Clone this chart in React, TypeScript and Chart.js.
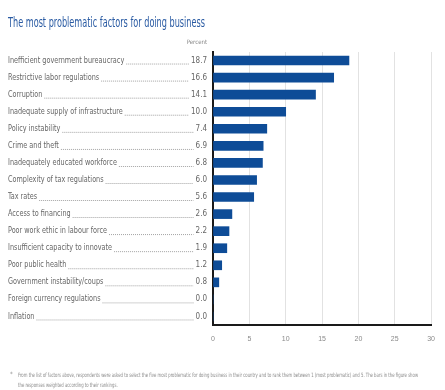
import { useEffect, useRef } from "react";
import { Chart, registerables } from "chart.js";

Chart.register(...registerables);

const TITLE = "The most problematic factors for doing business";
const UNIT_LABEL = "Percent";
const factors = [
  "Inefficient government bureaucracy",
  "Restrictive labor regulations",
  "Corruption",
  "Inadequate supply of infrastructure",
  "Policy instability",
  "Crime and theft",
  "Inadequately educated workforce",
  "Complexity of tax regulations",
  "Tax rates",
  "Access to financing",
  "Poor work ethic in labour force",
  "Insufficient capacity to innovate",
  "Poor public health",
  "Government instability/coups",
  "Foreign currency regulations",
  "Inflation",
];
const shares = [18.7, 16.6, 14.1, 10.0, 7.4, 6.9, 6.8, 6.0, 5.6, 2.6, 2.2, 1.9, 1.2, 0.8, 0.0, 0.0];
const xTickValues = [0, 5, 10, 15, 20, 25, 30];
const NOTE_LINES = [
  "From the list of factors above, respondents were asked to select the five most problematic for doing business in their country and to rank them between 1 (most problematic) and 5. The bars in the figure show",
  "the responses weighted according to their rankings.",
];

const BLUE = "#0e4c97";
const NARROW = "'Liberation Sans Narrow', 'DejaVu Sans Condensed', 'Liberation Sans', sans-serif";

function drawScaled(ctx: CanvasRenderingContext2D, text: string, x: number, y: number, sx: number) {
  ctx.save();
  ctx.translate(x, y);
  ctx.scale(sx, 1);
  ctx.fillText(text, 0, 0);
  ctx.restore();
}

function drawFit(ctx: CanvasRenderingContext2D, text: string, x: number, y: number, width: number) {
  const w = ctx.measureText(text).width;
  drawScaled(ctx, text, x, y, width / w);
}

const decorPlugin = {
  id: "decor",
  afterDraw(chart: any) {
    const ctx: CanvasRenderingContext2D = chart.ctx;
    const yScale = chart.scales.y;
    ctx.save();
    // Title
    ctx.fillStyle = "#2a5ba3";
    ctx.font = `14px ${NARROW}`;
    ctx.textBaseline = "alphabetic";
    ctx.textAlign = "left";
    drawFit(ctx, TITLE, 8, 27, 197);

    // Unit header
    ctx.fillStyle = "#8a8a8a";
    ctx.font = `6px ${NARROW}`;
    ctx.textAlign = "right";
    ctx.fillText(UNIT_LABEL, 207, 44);

    // Rows
    const sx = 0.9;
    const valueRight = 207;
    factors.forEach((label, i) => {
      const y = yScale.getPixelForValue(i);
      ctx.font = `8px ${NARROW}`;
      ctx.fillStyle = "#666";
      ctx.textBaseline = "middle";
      ctx.textAlign = "left";
      drawScaled(ctx, label, 8, y, sx);
      const lw = ctx.measureText(label).width * sx;
      const valueText = shares[i].toFixed(1);
      ctx.textAlign = "right";
      ctx.fillText(valueText, valueRight, y);
      const vw = ctx.measureText(valueText).width;
      ctx.beginPath();
      ctx.strokeStyle = "#8c8c8c";
      ctx.lineWidth = 0.8;
      ctx.setLineDash([1, 1]);
      ctx.moveTo(8 + lw + 2, y + 3.5);
      ctx.lineTo(valueRight - vw - 2, y + 3.5);
      ctx.stroke();
      ctx.setLineDash([]);
    });

    // Footnote
    ctx.fillStyle = "#8a8a8a";
    ctx.textAlign = "left";
    ctx.textBaseline = "middle";
    ctx.font = `6px ${NARROW}`;
    ctx.fillText("*", 10, 374);
    const noteScale = 400 / ctx.measureText(NOTE_LINES[0]).width;
    drawScaled(ctx, NOTE_LINES[0], 18, 375, noteScale);
    drawScaled(ctx, NOTE_LINES[1], 18, 385, noteScale);
    ctx.restore();
  },
};

export default function App() {
  const ref = useRef<HTMLCanvasElement | null>(null);
  useEffect(() => {
    if (!ref.current) return;
    const chart = new Chart(ref.current, {
      type: "bar",
      data: {
        labels: factors,
        datasets: [
          {
            data: shares,
            backgroundColor: BLUE,
            borderWidth: 0,
            barThickness: 9,
          },
        ],
      },
      options: {
        indexAxis: "y",
        animation: false,
        responsive: true,
        maintainAspectRatio: false,
        layout: { padding: { left: 213, right: 7, top: 52, bottom: 45 } },
        plugins: {
          legend: { display: false },
          title: { display: false },
          tooltip: { enabled: false },
        },
        scales: {
          x: {
            min: 0,
            max: 30,
            afterBuildTicks: (scale: any) => {
              scale.ticks = xTickValues.map((v) => ({ value: v }));
            },
            afterFit: (scale: any) => {
              scale.height = 20;
            },
            ticks: {
              color: "#8a8a8a",
              font: { size: 7, family: "'Liberation Sans Narrow', 'Liberation Sans', sans-serif" },
              padding: 10,
              maxRotation: 0,
            },
            grid: { color: "#e2e2e2", lineWidth: 1, drawTicks: false },
            border: { display: true, color: "#1a1a1a", width: 2 },
          },
          y: {
            ticks: { display: false },
            grid: { display: false, drawTicks: false },
            border: { display: true, color: "#1a1a1a", width: 2 },
            afterFit: (scale: any) => {
              scale.width = 0;
            },
          },
        },
      },
      plugins: [decorPlugin],
    });
    return () => chart.destroy();
  }, []);
  return (
    <div style={{ position: "fixed", left: 0, top: 0, width: 445, height: 390, background: "#fff" }}>
      <canvas ref={ref} />
    </div>
  );
}
